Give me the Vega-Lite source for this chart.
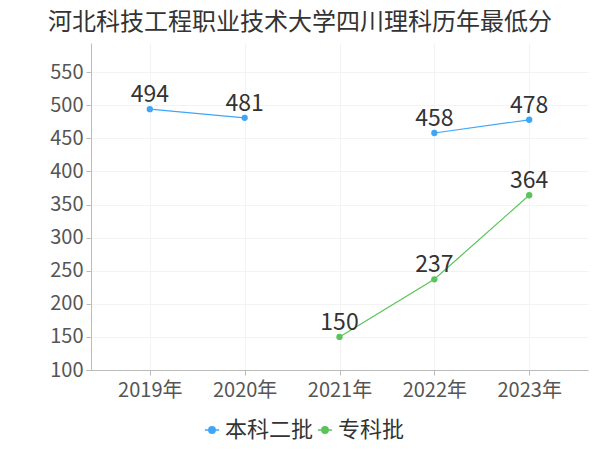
{
  "$schema": "https://vega.github.io/schema/vega-lite/v6.json",
  "autosize": {"type": "none"},
  "width": 497,
  "height": 327,
  "padding": {"left": 91, "top": 43, "right": 12, "bottom": 80},
  "background": "white",
  "title": {
    "text": "河北科技工程职业技术大学四川理科历年最低分",
    "anchor": "start",
    "frame": "group",
    "dx": -43,
    "offset": 8,
    "fontSize": 24,
    "fontWeight": "normal",
    "color": "#333333",
    "font": "Noto Sans CJK SC"
  },
  "config": {
    "font": "Noto Sans CJK SC",
    "view": {"stroke": null}
  },
  "data": {
    "values": [
      {"year": "2019年", "series": "本科二批", "score": 494},
      {"year": "2020年", "series": "本科二批", "score": 481},
      {"year": "2021年", "series": "本科二批", "score": null},
      {"year": "2022年", "series": "本科二批", "score": 458},
      {"year": "2023年", "series": "本科二批", "score": 478},
      {"year": "2021年", "series": "专科批", "score": 150},
      {"year": "2022年", "series": "专科批", "score": 237},
      {"year": "2023年", "series": "专科批", "score": 364}
    ]
  },
  "encoding": {
    "x": {
      "field": "year",
      "type": "ordinal",
      "sort": ["2019年", "2020年", "2021年", "2022年", "2023年"],
      "scale": {"type": "point", "padding": 0.62},
      "axis": {
        "title": null,
        "labelAngle": 0,
        "labelFontSize": 20,
        "labelColor": "#555555",
        "labelPadding": 5,
        "domainColor": "#bbbbbb",
        "tickColor": "#bbbbbb",
        "tickSize": 5,
        "grid": true,
        "gridColor": "#f3f3f3"
      }
    },
    "y": {
      "field": "score",
      "type": "quantitative",
      "scale": {"domain": [100, 594], "nice": false, "zero": false},
      "axis": {
        "title": null,
        "values": [100, 150, 200, 250, 300, 350, 400, 450, 500, 550],
        "labelFontSize": 20,
        "labelColor": "#555555",
        "labelPadding": 3,
        "domainColor": "#bbbbbb",
        "tickColor": "#bbbbbb",
        "tickSize": 5,
        "gridColor": "#f3f3f3"
      }
    },
    "color": {
      "field": "series",
      "type": "nominal",
      "sort": ["本科二批", "专科批"],
      "scale": {"domain": ["本科二批", "专科批"], "range": ["#3fa6f7", "#5bc35b"]},
      "legend": {
        "title": null,
        "orient": "none",
        "legendX": 110,
        "legendY": 376,
        "direction": "horizontal",
        "labelFontSize": 22,
        "labelColor": "#333333",
        "symbolType": "M-1,0L-0.45,0M0.45,0L1,0M-0.45,0A0.45,0.45 0 1,0 0.45,0A0.45,0.45 0 1,0 -0.45,0Z",
        "symbolSize": 200,
        "symbolStrokeWidth": 1.5,
        "columnPadding": 0,
        "labelOffset": 2,
        "encode": {
          "symbols": {"update": {"fill": {"scale": "color", "field": "value"}, "fillOpacity": {"value": 1}}}
        }
      }
    }
  },
  "layer": [
    {
      "mark": {"type": "line", "strokeWidth": 1.2, "invalid": "break-paths-filter-domains"}
    },
    {
      "transform": [{"filter": "datum.score != null"}],
      "mark": {"type": "circle", "size": 40, "opacity": 1}
    },
    {
      "transform": [{"filter": "datum.score != null"}],
      "mark": {"type": "text", "dy": -14, "fontSize": 23, "color": "#333333"},
      "encoding": {
        "text": {"field": "score", "type": "quantitative"},
        "color": {"value": "#333333"}
      }
    }
  ]
}
